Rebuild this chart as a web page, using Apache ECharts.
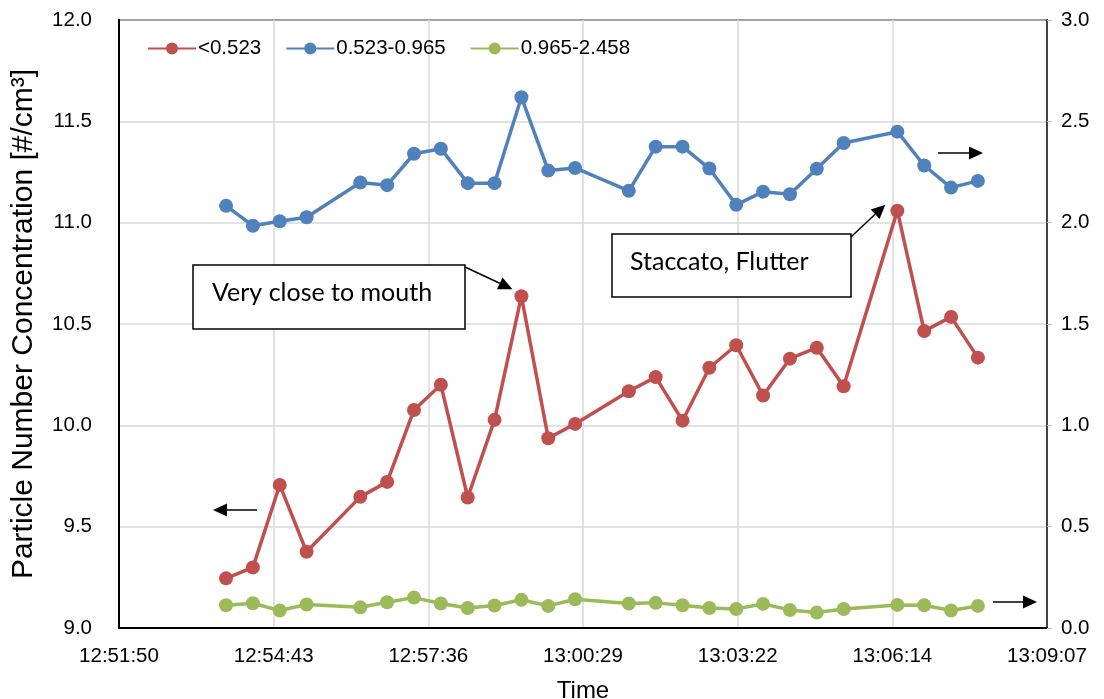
<!DOCTYPE html>
<html><head><meta charset="utf-8">
<script src="https://cdn.jsdelivr.net/npm/echarts@6/dist/echarts.min.js"></script>
<style>html,body{margin:0;padding:0;background:#fff}#c{width:1104px;height:699px}</style>
</head><body><div id="c"></div>
<script>
// ---- data ----
const times = ['12:53:50','12:54:20','12:54:50','12:55:20','12:56:20','12:56:50','12:57:20','12:57:50',
  '12:58:20','12:58:50','12:59:20','12:59:50','13:00:20','13:01:20','13:01:50','13:02:20','13:02:50',
  '13:03:20','13:03:50','13:04:20','13:04:50','13:05:20','13:06:20','13:06:50','13:07:20','13:07:50'];
const seriesNames = ['<0.523', '0.523-0.965', '0.965-2.458'];
// left axis
const below0523 = [9.245,9.299,9.706,9.376,9.647,9.721,10.076,10.200,9.644,10.027,10.637,9.936,10.007,
  10.168,10.238,10.023,10.284,10.395,10.147,10.329,10.383,10.193,11.059,10.465,10.535,10.334];
// right axis
const r0523to0965 = [2.083,1.985,2.007,2.027,2.198,2.185,2.340,2.365,2.195,2.195,2.619,2.257,2.270,
  2.157,2.375,2.375,2.267,2.088,2.153,2.140,2.266,2.393,2.449,2.282,2.173,2.206];
const r0965to2458 = [0.112,0.122,0.086,0.116,0.102,0.127,0.150,0.121,0.099,0.111,0.139,0.109,0.142,
  0.121,0.124,0.112,0.099,0.094,0.119,0.089,0.076,0.094,0.114,0.112,0.086,0.109];
// axis ranges (x in fractions of a day, as in the source spreadsheet)
const xMinDay = 0.536, xMaxDay = 0.548, xStepDay = 0.002;
const leftMin = 9, leftMax = 12, leftStep = 0.5;
const rightMin = 0, rightMax = 3, rightStep = 0.5;
const annotations = ['Very close to mouth', 'Staccato, Flutter'];

// ---- helpers ----
const toSec = t => { const p = t.split(':').map(Number); return p[0]*3600 + p[1]*60 + p[2]; };
const pad = n => String(n).padStart(2, '0');
const fmtTime = v => { const s = Math.round(v); return pad(Math.floor(s/3600)) + ':' + pad(Math.floor(s%3600/60)) + ':' + pad(s%60); };
const xs = times.map(toSec);
const pairs = arr => arr.map((v, i) => [xs[i], v]);

const colors = ['#C0504D', '#4F81BD', '#9BBB59'];
const FONT = '"Liberation Sans", Arial, sans-serif';
const NOTE_FONT = 'Lato, "Open Sans", sans-serif';

function arrow(x1, y1, x2, y2) {
  const ang = Math.atan2(y2 - y1, x2 - x1), L = 14, W = 6.5;
  const bx = x2 - L*Math.cos(ang), by = y2 - L*Math.sin(ang);
  const px = -Math.sin(ang)*W, py = Math.cos(ang)*W;
  return [
    {type:'line', shape:{x1, y1, x2:bx, y2:by}, style:{stroke:'#000', lineWidth:1.5}, z:100},
    {type:'polygon', shape:{points:[[x2,y2],[bx+px,by+py],[bx-px,by-py]]}, style:{fill:'#000'}, z:100}
  ];
}
function noteBox(x, y, w, h, text, tx) {
  return [
    {type:'rect', shape:{x, y, width:w, height:h}, style:{fill:'#fff', stroke:'#000', lineWidth:1.5}, z:100},
    {type:'text', x:tx, y:y + h/2 - 4, style:{text, font:'25px ' + NOTE_FONT, fill:'#000', verticalAlign:'middle'}, z:101}
  ];
}

const chart = echarts.init(document.getElementById('c'), null, {renderer:'canvas'});
const mkSeries = (name, data, yIdx, color) => ({
  name, type:'line', data, yAxisIndex:yIdx, symbol:'circle', symbolSize:14,
  itemStyle:{color}, lineStyle:{color, width:3.5}, z:10, animation:false
});

chart.setOption({
  animation:false,
  backgroundColor:'#fff',
  grid:{left:119, right:57, top:20, bottom:71, containLabel:false, outerBoundsMode:'none',
    show:true, borderColor:'#000', borderWidth:2, backgroundColor:'transparent'},
  legend:{
    data:seriesNames, left:142, top:33, itemWidth:48, itemHeight:15, itemGap:24,
    textStyle:{fontFamily:FONT, fontSize:20.5, color:'#000', padding:[0,0,0,-3]}
  },
  xAxis:{
    type:'value', min:xMinDay*86400, max:xMaxDay*86400, interval:xStepDay*86400,
    name:'Time', nameLocation:'middle', nameGap:51,
    nameTextStyle:{fontFamily:FONT, fontSize:24, color:'#000'},
    axisLine:{show:true, lineStyle:{color:'#000', width:2}}, axisTick:{show:false},
    axisLabel:{formatter:fmtTime, fontFamily:FONT, fontSize:20.5, color:'#000', margin:18},
    splitLine:{show:true, lineStyle:{color:'#d9d9d9', width:1.5}}
  },
  yAxis:[{
    type:'value', min:leftMin, max:leftMax, interval:leftStep, position:'left',
    name:'Particle Number Concentration [#/cm³]', nameLocation:'middle', nameGap:80, nameRotate:90,
    nameTextStyle:{fontFamily:FONT, fontSize:30, color:'#000'},
    axisLine:{show:true, lineStyle:{color:'#000', width:2}}, axisTick:{show:false},
    axisLabel:{formatter:v => v.toFixed(1), fontFamily:FONT, fontSize:20.5, color:'#000', margin:27},
    splitLine:{show:true, lineStyle:{color:'#d9d9d9', width:1.5}}
  },{
    type:'value', min:rightMin, max:rightMax, interval:rightStep, position:'right',
    axisLine:{show:true, lineStyle:{color:'#444', width:2}},
    axisTick:{show:true, length:5, lineStyle:{color:'#bbb'}},
    axisLabel:{formatter:v => v.toFixed(1), fontFamily:FONT, fontSize:20.5, color:'#000', margin:14},
    splitLine:{show:false}
  }],
  series:[
    mkSeries(seriesNames[0], pairs(below0523), 0, colors[0]),
    mkSeries(seriesNames[1], pairs(r0523to0965), 1, colors[1]),
    mkSeries(seriesNames[2], pairs(r0965to2458), 1, colors[2])
  ]
});

// annotations: arrow tips anchored to data points via the chart's own scales
const p11 = chart.convertToPixel({xAxisIndex:0, yAxisIndex:0}, [xs[10], below0523[10]]);
const p25 = chart.convertToPixel({xAxisIndex:0, yAxisIndex:0}, [xs[22], below0523[22]]);
const graphics = [].concat(
  noteBox(193, 265, 272, 64, annotations[0], 212),
  arrow(465, 267, p11[0] - 9, p11[1] - 7),
  noteBox(612, 234, 239, 63, annotations[1], 630),
  arrow(851, 237, p25[0] - 12, p25[1] - 6),
  arrow(257, 510, 213, 510),
  arrow(938, 153, 983, 153),
  arrow(993, 602, 1037, 602)
);
chart.setOption({graphic:graphics});
</script></body></html>
